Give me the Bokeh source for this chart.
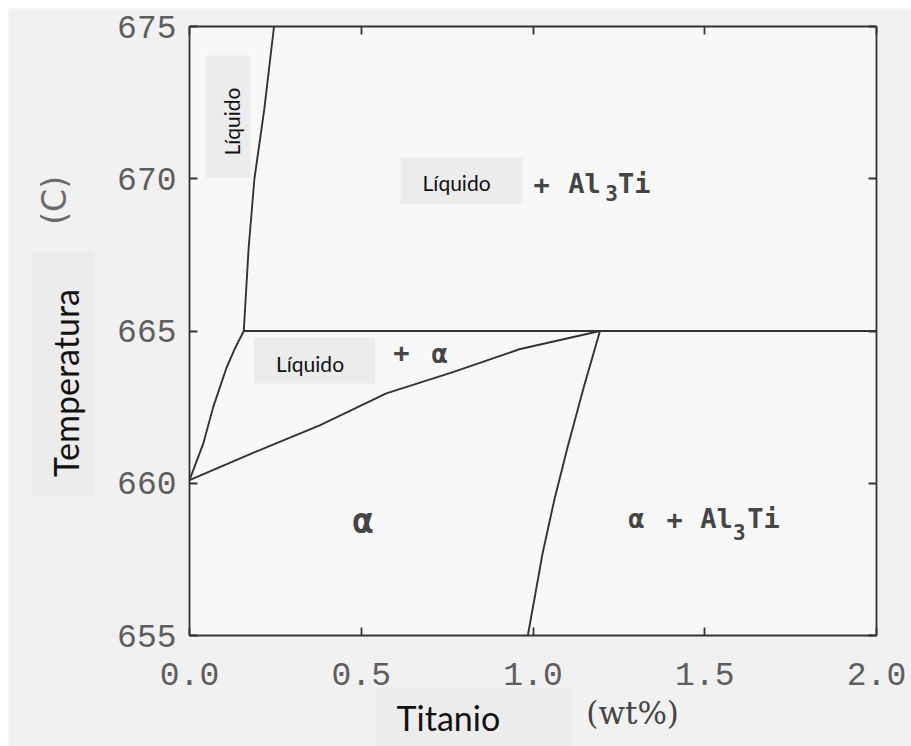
from bokeh.plotting import figure
from bokeh.models import (Range1d, LinearAxis, FixedTicker, Label, BoxAnnotation,
                          PrintfTickFormatter)
from bokeh.embed import file_html
from bokeh.resources import INLINE
from bokeh.core.properties import value

# ---- data (wt% Ti, temperature in C) ----
liquidus_wt = [0.0, 0.040, 0.069, 0.108, 0.131, 0.158, 0.172, 0.189, 0.218, 0.246]
liquidus_t = [660.1, 661.3, 662.5, 663.8, 664.4, 665.0, 667.7, 670.0, 672.3, 675.0]

solidus_wt = [0.0, 0.185, 0.379, 0.573, 0.767, 0.960, 1.195]
solidus_t = [660.1, 661.0, 661.9, 662.95, 663.65, 664.4, 665.0]

solvus_wt = [1.195, 1.149, 1.101, 1.062, 1.028, 0.985]
solvus_t = [665.0, 663.2, 661.2, 659.45, 657.7, 655.0]

peritectic_wt = [0.158, 2.0]
peritectic_t = [665.0, 665.0]

x_ticks = [0.0, 0.5, 1.0, 1.5, 2.0]
y_ticks = [655, 660, 665, 670, 675]
X_MIN, X_MAX = 0.0, 2.0
T_MIN, T_MAX = 655, 675

# ---- layout constants (canvas pixels) ----
W, H = 903, 738
X0_PX = 181.0          # canvas x of 0 wt%
PX_PER_WT = 343.5
TOP_PX = 18.0          # canvas y of 675 C
PX_PER_C = 30.45

LINE = "#333333"
INK = "#454545"
TICKINK = "#5e5e5e"
BOX = "#ececec"

p = figure(width=W, height=H, output_backend="svg", toolbar_location=None,
           margin=(8, 0, 0, 8), min_border=0,
           x_range=Range1d(-X0_PX / PX_PER_WT, (W - X0_PX) / PX_PER_WT),
           y_range=Range1d(T_MAX - (H - TOP_PX) / PX_PER_C, T_MAX + TOP_PX / PX_PER_C),
           background_fill_color="#f1f1f1", border_fill_color="#f1f1f1")
p.grid.visible = False
p.outline_line_color = None

p.add_layout(BoxAnnotation(left=X_MIN, right=X_MAX, bottom=T_MIN, top=T_MAX,
                           fill_color="#f8f8f8", fill_alpha=1.0, line_color=None,
                           level="underlay"))


def style_axis(ax, ticks, loc, bounds, labels=True, standoff=12):
    ax.ticker = FixedTicker(ticks=ticks)
    ax.fixed_location = loc
    ax.bounds = bounds
    ax.major_tick_in = 8
    ax.major_tick_out = 0
    ax.minor_tick_line_color = None
    ax.axis_line_color = LINE
    ax.axis_line_width = 1.8
    ax.major_tick_line_color = LINE
    ax.major_tick_line_width = 1.8
    ax.major_label_standoff = standoff
    if labels:
        ax.major_label_text_font = "Liberation Mono"
        ax.major_label_text_font_size = "33px"
        ax.major_label_text_color = TICKINK
    else:
        ax.major_label_text_font_size = "0px"
        ax.major_label_text_color = None
        ax.major_label_standoff = 0


style_axis(p.xaxis[0], x_ticks, T_MIN, (X_MIN, X_MAX), True, 27)
p.xaxis[0].formatter = PrintfTickFormatter(format="%.1f")
style_axis(p.yaxis[0], y_ticks, X_MIN, (T_MIN, T_MAX), True, 13)
top_ax = LinearAxis()
style_axis(top_ax, x_ticks, T_MAX, (X_MIN, X_MAX), False)
p.add_layout(top_ax, "above")
right_ax = LinearAxis()
style_axis(right_ax, y_ticks, X_MAX, (T_MIN, T_MAX), False)
p.add_layout(right_ax, "right")

# ---- phase boundaries ----
for xs, ys in [(liquidus_wt, liquidus_t), (solidus_wt, solidus_t),
               (solvus_wt, solvus_t), (peritectic_wt, peritectic_t)]:
    p.line(xs, ys, line_color=LINE, line_width=1.9)

# ---- plotter-style phase labels ----
mono = value("DejaVu Sans Mono")
p.text(x=[1.025, 1.150, 1.295, 1.301, 1.412, 1.534, 1.671, 0.617, 0.728],
       y=[669.844, 669.844, 669.844, 658.826, 658.826, 658.826, 658.826, 664.31, 664.261],
       text=["+", "Al", "Ti", "α", "+", "Al", "Ti", "+", "α"],
       text_font=mono, text_font_size=value("27px"),
       text_font_style="bold", text_color=INK,
       text_align="center", text_baseline="middle")
p.text(x=[1.229, 1.601], y=[669.532, 658.399], text=["3", "3"],
       text_font=mono, text_font_size=value("21px"),
       text_font_style="bold", text_color=INK,
       text_align="center", text_baseline="middle")
p.text(x=[0.505], y=[658.76], text=["α"],
       text_font=mono, text_font_size=value("35px"),
       text_font_style="bold", text_color=INK,
       text_align="center", text_baseline="middle")


def boxed(text, x, y, size, angle=0.0, pad=(0, 0, 0, 0)):
    l, r, t, b = pad
    p.add_layout(Label(x=x, y=y, text=text, angle=angle,
                       text_font="Lato", text_font_size=size, text_color="#111111",
                       text_align="center", text_baseline="middle",
                       background_fill_color=BOX,
                       padding=dict(left=l, right=r, top=t, bottom=b)))


boxed("Líquido", 0.792, 669.943, "21px", pad=(22, 32, 13, 8))
boxed("Líquido", 0.364, 664.031, "21px", pad=(22, 31, 13, 8))
boxed("Líquido", 0.112, 672.044, "21px", angle=1.5708, pad=(22, 32, 14, 6))
boxed("Temperatura", -0.370, 663.571, "34px", angle=1.5708, pad=(20, 37, 14, 7))
boxed("Titanio", 0.828, 652.241, "34px", pad=(21, 72, 8, 12))

p.add_layout(Label(x=1.290, y=652.47, text="(wt%)", text_font="DejaVu Serif",
                   text_font_size="31px", text_color=INK,
                   text_align="center", text_baseline="middle"))
p.add_layout(Label(x=-0.393, y=669.29, text="(C)", text_font="DejaVu Sans",
                   text_font_size="33px", text_color="#6a6a6a", angle=1.5708,
                   text_align="center", text_baseline="middle"))

open("out.html", "w").write(file_html(p, INLINE))
